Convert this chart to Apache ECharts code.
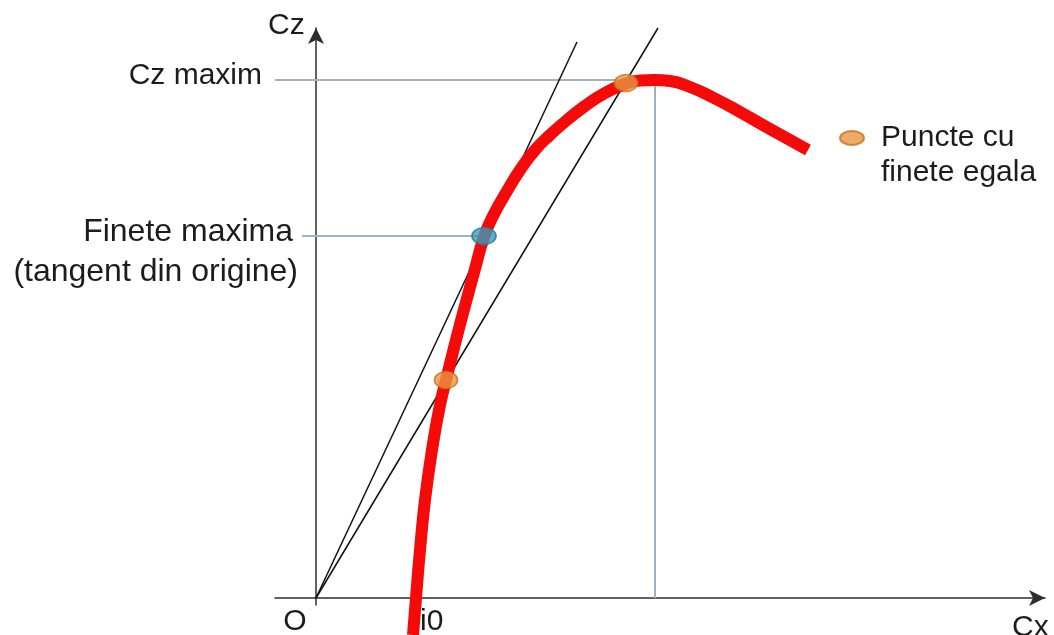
<!DOCTYPE html>
<html>
<head>
<meta charset="utf-8">
<script src="https://cdn.jsdelivr.net/npm/echarts@6/dist/echarts.min.js"></script>
<style>
  html, body { margin: 0; padding: 0; background: #fff; }
  #polara { width: 1054px; height: 635px; }
</style>
</head>
<body>
<div id="polara"></div>
<script>
// polara Cz(Cx) - unitati arbitrare, citite de pe desen
const polara = [
  [97, -37], [100, 0], [104, 48], [109, 98], [116, 148], [124, 193],
  [132, 226], [141, 262], [150, 296], [159, 329], [168, 361], [178, 384],
  [191, 407], [204, 428], [219, 448], [234, 463], [251, 478], [269, 492],
  [289, 505], [309, 514], [324, 517.5], [339, 518], [354, 517], [374, 511],
  [396, 501], [424, 486], [454, 469], [492, 448]
]
const tangentaOrigine = [[0, 0], [261, 556]]   // tangenta din origine
const secantaOrigine = [[0, 0], [342, 570]]    // dreapta prin punctele cu finete egala
const punctEgal = [[130, 218], [310, 515]]
const punctFineteMax = [[168, 362]]
const liniaCzMax = [[-41, 518], [339, 518], [339, 0]]
const liniaFineteMax = [[-14, 362], [168, 362]]

const ELIPSA = 'path://M0,7a12,7 0 1,0 24,0a12,7 0 1,0 -24,0'
const font = '"Liberation Sans", Arial, sans-serif'

let chart = echarts.init(document.getElementById('polara'))

const axa = (min, max) => ({
  type: 'value',
  min: min,
  max: max,
  axisLine: {
    show: true,
    onZero: true,
    symbol: ['none', 'arrow'],
    symbolSize: [12, 16],
    lineStyle: { color: '#2e2e2e', width: 1.5 }
  },
  axisTick: { show: false },
  axisLabel: { show: false },
  splitLine: { show: false }
})

const text = (t, x, y, align, size) => ({
  type: 'text',
  x: x,
  y: y,
  style: {
    text: t,
    font: (size || 30) + 'px ' + font,
    fill: '#1c1c1c',
    align: align || 'left',
    verticalAlign: 'middle'
  }
})

chart.setOption({
  animation: false,
  backgroundColor: '#fff',
  grid: { left: 275, right: 9, top: 28, bottom: 30 },
  xAxis: axa(-41, 729),
  yAxis: axa(-7, 570),
  legend: {
    left: 834,
    top: 83,
    data: [{ name: 'Puncte cu finete egala', icon: ELIPSA }],
    itemWidth: 24,
    itemHeight: 15,
    formatter: () => '{s| }\n{s| }{t|Puncte cu}\n{s| }{t|finete egala}',
    textStyle: {
      fontFamily: font,
      color: '#1c1c1c',
      rich: {
        s: { width: 12, lineHeight: 35, fontSize: 30, fontFamily: font },
        t: { lineHeight: 35, fontSize: 30, fontFamily: font, color: '#1c1c1c' }
      }
    },
    selectedMode: false
  },
  series: [
    {
      type: 'line',
      data: liniaCzMax,
      symbol: 'none',
      lineStyle: { color: '#a0b1c3', width: 2 },
      z: 1
    },
    {
      type: 'line',
      data: liniaFineteMax,
      symbol: 'none',
      lineStyle: { color: '#a0b1c3', width: 2 },
      z: 1
    },
    {
      type: 'line',
      data: tangentaOrigine,
      symbol: 'none',
      lineStyle: { color: '#111', width: 1.5 },
      z: 2
    },
    {
      type: 'line',
      data: secantaOrigine,
      symbol: 'none',
      lineStyle: { color: '#111', width: 1.5 },
      z: 2
    },
    {
      name: 'polara',
      type: 'line',
      data: polara,
      smooth: 0.5,
      symbol: 'none',
      clip: false,
      lineStyle: { color: '#f50a0a', width: 12 },
      z: 3
    },
    {
      name: 'Puncte cu finete egala',
      type: 'scatter',
      data: punctEgal,
      symbol: ELIPSA,
      symbolSize: [23, 17],
      itemStyle: { color: '#ea963f', borderColor: '#c47326', borderWidth: 1.5 },
      z: 5
    },
    {
      name: 'Finete maxima',
      type: 'scatter',
      data: punctFineteMax,
      symbol: ELIPSA,
      symbolSize: [24, 17],
      itemStyle: { color: '#3a9ab6', borderColor: '#2a7b94', borderWidth: 1.5 },
      z: 5
    }
  ],
  graphic: [
    text('Cz', 268, 26),
    text('Cz maxim', 262, 76, 'right'),
    text('Finete maxima', 293, 232, 'right', 32),
    text('(tangent din origine)', 298, 272, 'right', 32),
    text('O', 295, 622, 'center'),
    text('i0', 420, 622),
    text('Cx', 1012, 628)
  ]
})
</script>
</body>
</html>
